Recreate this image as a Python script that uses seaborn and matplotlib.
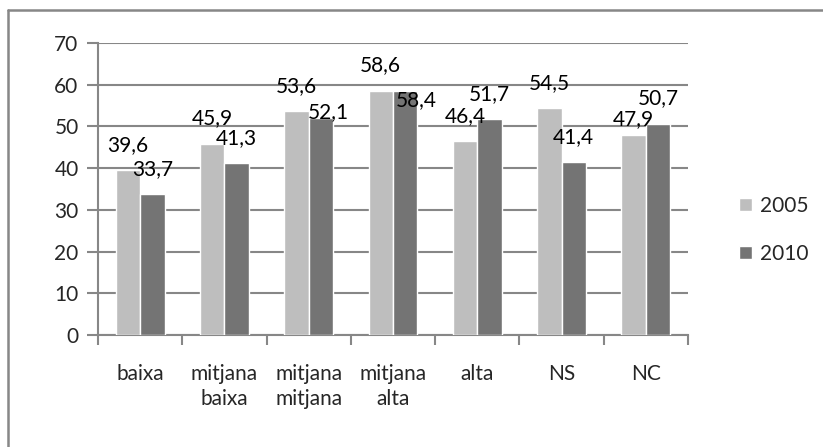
import pandas as pd
import numpy as np
import seaborn as sns
import matplotlib
matplotlib.use('Agg')
import matplotlib.pyplot as plt
from matplotlib.lines import Line2D
from matplotlib.ticker import FixedLocator

# Dades
categories = ['baixa', 'mitjana\nbaixa', 'mitjana\nmitjana', 'mitjana\nalta', 'alta', 'NS', 'NC']
valors_2005 = [39.6, 45.9, 53.6, 58.6, 46.4, 54.5, 47.9]
valors_2010 = [33.7, 41.3, 52.1, 58.4, 51.7, 41.4, 50.7]
anys = ['2005', '2010']
y_ticks = [0, 10, 20, 30, 40, 50, 60, 70]

df = pd.DataFrame({
    'categoria': categories * 2,
    'valor': valors_2005 + valors_2010,
    'any': [anys[0]] * len(categories) + [anys[1]] * len(categories),
})

sns.set_style('white')
plt.rcParams['font.family'] = ['Lato', 'DejaVu Sans']
FS = 15

W, H = 823, 447
fig = plt.figure(figsize=(W / 100, H / 100), dpi=100)
ax = fig.add_axes([98 / W, (H - 335) / H, (688 - 98) / W, (335 - 43) / H])

gris = '#878787'
sns.barplot(data=df, x='categoria', y='valor', hue='any',
            palette=['#BEBEBE', '#747474'], width=0.58, saturation=1,
            ax=ax, zorder=3)

# Etiquetes de dades (desplaçaments com a l'original, en píxels)
despl = {(1, 2): (7, -19), (1, 3): (11, -34), (0, 6): (0, -9)}
for i, cont in enumerate(ax.containers):
    for j, (barra, v) in enumerate(zip(cont, cont.datavalues)):
        dx, dy = despl.get((i, j), (0, 0))
        ax.annotate(f'{v:.1f}'.replace('.', ','),
                    (barra.get_x() + barra.get_width() / 2, v),
                    xytext=(dx, 19 + dy), textcoords='offset pixels',
                    ha='center', va='baseline', fontsize=FS, color='black',
                    zorder=4)

# Eixos
ax.set_ylim(0, 70)
ax.set_xlim(-0.5, len(categories) - 0.5)
ax.set_yticks(y_ticks)
ax.yaxis.grid(True, color=gris, linewidth=1.5, zorder=0)
ax.set_axisbelow(True)
for s in ['top', 'right']:
    ax.spines[s].set_visible(False)
for s in ['left', 'bottom']:
    ax.spines[s].set_color(gris)
    ax.spines[s].set_linewidth(1.5)
ax.set_xlabel('')
ax.set_ylabel('')

ax.xaxis.set_major_locator(FixedLocator(np.arange(-0.5, len(categories), 1)))
ax.set_xticklabels([''] * (len(categories) + 1))
ax.xaxis.set_minor_locator(FixedLocator(np.arange(len(categories))))
ax.set_xticklabels(categories, minor=True, fontsize=FS, linespacing=1.3, va='top')
ax.tick_params(axis='x', which='major', length=7, width=1.5, color=gris, direction='out', bottom=True)
ax.tick_params(axis='x', which='minor', length=0, pad=21)
ax.tick_params(axis='y', length=8, width=1.5, color=gris, direction='out', left=True,
               labelsize=FS, pad=6)

# Llegenda
leg = ax.legend(loc='center left', bbox_to_anchor=(1.055, 0.36), frameon=False,
                fontsize=FS, handlelength=0.62, handleheight=0.62, handletextpad=0.4,
                labelspacing=1.35)

# Marc exterior
fig.add_artist(Line2D([8 / W, 8 / W], [0, (H - 10) / H], color=gris, linewidth=1.8))
fig.add_artist(Line2D([8 / W, 1], [(H - 10) / H, (H - 10) / H], color=gris, linewidth=1.8))

fig.savefig('out.png', dpi=100)
